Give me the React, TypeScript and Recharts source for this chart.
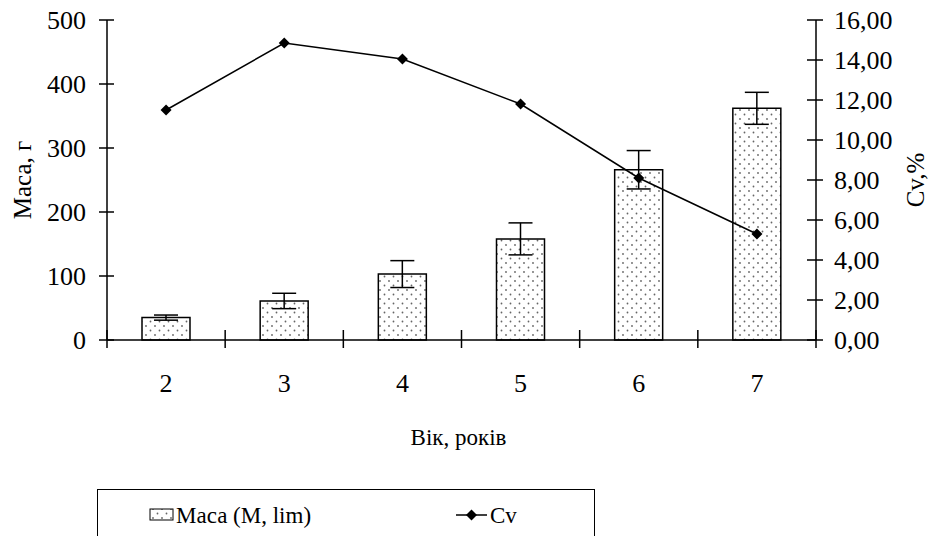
import React from "react";
import { Bar, ComposedChart, ErrorBar, Line, XAxis, YAxis } from "recharts";

const ages = ["2", "3", "4", "5", "6", "7"];
const massMean = [35, 61, 103, 158, 266, 362];
const massErr = [4, 12, 21, 25, 30, 25];
const cvValues = [11.5, 14.85, 14.05, 11.8, 8.1, 5.3];
const massTicks = [0, 100, 200, 300, 400, 500];
const cvTicks = [0, 2, 4, 6, 8, 10, 12, 14, 16];

const data = ages.map((age, i) => ({
  age,
  mass: massMean[i],
  err: massErr[i],
  cv: cvValues[i],
}));

const W = 935;
const H = 536;
const LEFT = 107;
const RIGHT = 816;
const TOP = 20;
const BOTTOM = 340;
const FONT = "Liberation Serif, DejaVu Serif, serif";
const BAND = (RIGHT - LEFT) / ages.length;
const tickTxt = { fontFamily: FONT, fontSize: 26, fill: "#000" };
const txt = { fontFamily: FONT, fontSize: 23, fill: "#000" };

function LeftTick({ y, payload }: any) {
  return (
    <g>
      <line x1={LEFT - 8} x2={LEFT + 7} y1={y} y2={y} stroke="#000" strokeWidth={1.5} />
      <text x={LEFT - 21} y={y} textAnchor="end" dominantBaseline="central" style={tickTxt}>
        {payload.value}
      </text>
    </g>
  );
}

function RightTick({ y, payload }: any) {
  return (
    <g>
      <line x1={RIGHT - 9} x2={RIGHT + 7} y1={y} y2={y} stroke="#000" strokeWidth={1.5} />
      <text x={RIGHT + 18} y={y} textAnchor="start" dominantBaseline="central" style={tickTxt}>
        {payload.value.toFixed(2).replace(".", ",")}
      </text>
    </g>
  );
}

function BottomTick({ x, payload }: any) {
  return (
    <text x={x} y={BOTTOM + 43} textAnchor="middle" dominantBaseline="central" style={tickTxt}>
      {payload.value}
    </text>
  );
}

// boundary ticks between categories, drawn on top of the bars
function BoundaryTicks() {
  return (
    <g>
      {Array.from({ length: ages.length + 1 }, (_, i) => {
        const x = LEFT + i * BAND;
        return <line key={i} x1={x} x2={x} y1={BOTTOM - 10} y2={BOTTOM + 8} stroke="#000" strokeWidth={1.5} />;
      })}
    </g>
  );
}

function Diamond({ cx, cy }: any) {
  const r = 5.5;
  return <polygon points={`${cx},${cy - r} ${cx + r},${cy} ${cx},${cy + r} ${cx - r},${cy}`} fill="#000" />;
}

export default function App() {
  return (
    <div style={{ position: "absolute", left: 0, top: 0, width: W, height: H, background: "#fff", overflow: "hidden" }}>
      <ComposedChart width={W} height={H} data={data} margin={{ top: TOP, right: 0, bottom: 0, left: 0 }}>
        <defs>
          <pattern id="dots" width="9" height="9" patternUnits="userSpaceOnUse">
            <rect width="9" height="9" fill="#fff" />
            <circle cx="2" cy="2" r="0.9" fill="#666" />
            <circle cx="6.5" cy="6.5" r="0.9" fill="#666" />
          </pattern>
        </defs>
        <XAxis
          dataKey="age"
          xAxisId="x"
          height={H - BOTTOM}
          axisLine={{ stroke: "#000", strokeWidth: 1.5 }}
          tickLine={false}
          tick={<BottomTick />}
          interval={0}
        />
        <YAxis
          yAxisId="mass"
          width={LEFT}
          domain={[0, 500]}
          ticks={massTicks}
          axisLine={{ stroke: "#000", strokeWidth: 1.5 }}
          tickLine={false}
          tick={<LeftTick />}
          label={{ value: "Маса, г", angle: -90, position: "insideLeft", offset: 22, style: { ...tickTxt, fontSize: 25, textAnchor: "middle" } }}
        />
        <YAxis
          yAxisId="cv"
          orientation="right"
          width={W - RIGHT}
          domain={[0, 16]}
          ticks={cvTicks}
          axisLine={{ stroke: "#000", strokeWidth: 1.5 }}
          tickLine={false}
          tick={<RightTick />}
          label={{ value: "Cv,%", angle: -90, position: "insideRight", offset: 20, style: { ...tickTxt, fontSize: 25, textAnchor: "middle" } }}
        />
        <Bar xAxisId="x" yAxisId="mass" dataKey="mass" barSize={48} fill="url(#dots)" stroke="#000" strokeWidth={1.5} isAnimationActive={false}>
          <ErrorBar dataKey="err" width={12} stroke="#000" strokeWidth={1.5} isAnimationActive={false} />
        </Bar>
        <Line
          xAxisId="x"
          yAxisId="cv"
          dataKey="cv"
          type="linear"
          stroke="#000"
          strokeWidth={1.5}
          dot={<Diamond />}
          activeDot={false}
          isAnimationActive={false}
        />
        <BoundaryTicks />
        <text x={(LEFT + RIGHT) / 2 - 3} y={437} textAnchor="middle" dominantBaseline="central" style={txt}>
          Вік, років
        </text>
      </ComposedChart>
      <div
        style={{
          position: "absolute",
          left: 97,
          top: 489,
          width: 498,
          height: 60,
          border: "1.5px solid #000",
          boxSizing: "border-box",
        }}
      >
        <svg width={498} height={60} style={{ position: "absolute", left: -1.5, top: -1.5 }}>
          <rect x={53} y={20} width={23} height={11} fill="url(#dots)" stroke="#000" strokeWidth={1} />
          <text x={79} y={26} dominantBaseline="central" style={txt}>
            Маса (M, lim)
          </text>
          <line x1={359} x2={390} y1={26} y2={26} stroke="#000" strokeWidth={1.5} />
          <Diamond cx={374.5} cy={26} />
          <text x={393} y={26} dominantBaseline="central" style={txt}>
            Cv
          </text>
        </svg>
      </div>
    </div>
  );
}
